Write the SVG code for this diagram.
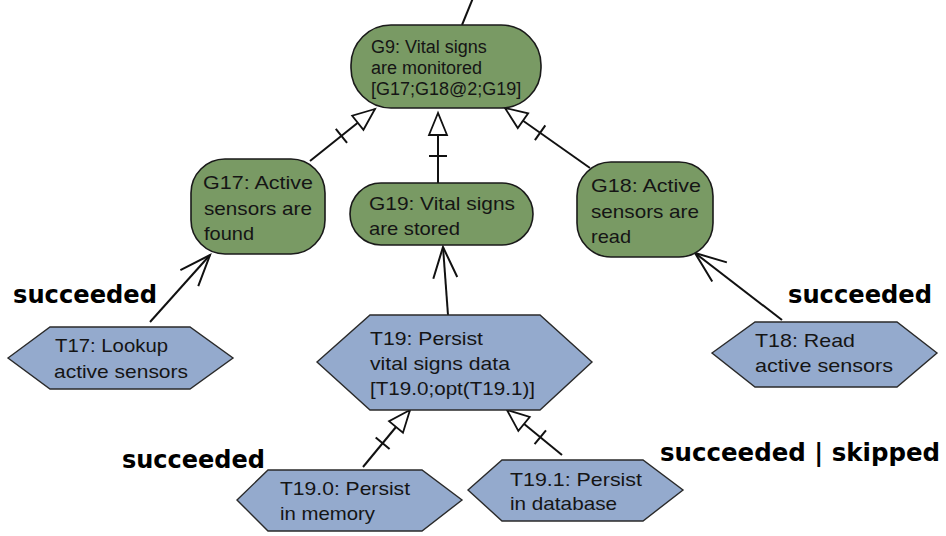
<svg xmlns="http://www.w3.org/2000/svg" width="946" height="536" viewBox="0 0 946 536">
  <style>
    .goal { fill: #799a64; stroke: #1a1a1a; stroke-width: 1.6; }
    .task { fill: #94aacd; stroke: #2a2a2a; stroke-width: 1.4; }
    .txt { font-family: "Liberation Sans", Arial, sans-serif; font-size: 19px; fill: #151515; }
    .top { font-size: 18px; }
    .lbl { font-family: "DejaVu Sans", sans-serif; font-weight: bold; font-size: 24px; fill: #000; }
    .edge { stroke: #111; stroke-width: 2; fill: none; }
    .refine { marker-end: url(#refine); }
    .means { marker-end: url(#means); }
  </style>
  <defs>
    <!-- hollow triangle with a crossing tick: goal/task decomposition -->
    <marker id="refine" markerUnits="userSpaceOnUse" viewBox="-50 -12 52 24" refX="0" refY="0" markerWidth="52" markerHeight="24" orient="auto" overflow="visible">
      <line x1="-43" y1="-9" x2="-43" y2="9" stroke="#111" stroke-width="2"/>
      <path d="M0,0 L-22,-9 L-22,9 Z" fill="#fff" stroke="#111" stroke-width="1.8" stroke-linejoin="miter"/>
    </marker>
    <!-- open arrowhead: task achieves goal -->
    <marker id="means" markerUnits="userSpaceOnUse" viewBox="-34 -14 36 28" refX="0" refY="0" markerWidth="36" markerHeight="28" orient="auto" overflow="visible">
      <path d="M-31,-12 L0,0 L-31,12" fill="none" stroke="#111" stroke-width="2"/>
    </marker>
  </defs>

  <g id="connectors">
    <line class="edge" x1="462" y1="25" x2="473" y2="-2"/>
    <line class="edge refine" x1="310" y1="161" x2="375" y2="109"/>
    <line class="edge refine" x1="438" y1="183" x2="438" y2="113"/>
    <line class="edge refine" x1="590" y1="168" x2="505" y2="108"/>
    <line class="edge means" x1="150" y1="322" x2="210" y2="255"/>
    <line class="edge means" x1="448" y1="315" x2="443" y2="247"/>
    <line class="edge means" x1="782" y1="320" x2="695" y2="253"/>
    <line class="edge refine" x1="363" y1="467" x2="410" y2="410"/>
    <line class="edge refine" x1="562" y1="455" x2="507" y2="410"/>
  </g>

  <g id="G9">
    <rect class="goal" x="351" y="25" width="190" height="83" rx="40" ry="40"/>
    <text class="txt top" x="371" y="53">G9: Vital signs</text>
    <text class="txt top" x="371" y="74">are monitored</text>
    <text class="txt top" x="371" y="95">[G17;G18@2;G19]</text>
  </g>

  <g id="G17">
    <rect class="goal" x="191" y="159" width="134" height="95" rx="34" ry="34"/>
    <text class="txt" x="203" y="189" textLength="110" lengthAdjust="spacingAndGlyphs">G17: Active</text>
    <text class="txt" x="204" y="215" textLength="108" lengthAdjust="spacingAndGlyphs">sensors are</text>
    <text class="txt" x="204" y="240" textLength="50" lengthAdjust="spacingAndGlyphs">found</text>
  </g>

  <g id="G19">
    <rect class="goal" x="350" y="183" width="183" height="62" rx="31" ry="31"/>
    <text class="txt" x="369" y="210" textLength="146" lengthAdjust="spacingAndGlyphs">G19: Vital signs</text>
    <text class="txt" x="369" y="235" textLength="91" lengthAdjust="spacingAndGlyphs">are stored</text>
  </g>

  <g id="G18">
    <rect class="goal" x="577" y="162" width="136" height="95" rx="34" ry="34"/>
    <text class="txt" x="591" y="192" textLength="110" lengthAdjust="spacingAndGlyphs">G18: Active</text>
    <text class="txt" x="591" y="218" textLength="108" lengthAdjust="spacingAndGlyphs">sensors are</text>
    <text class="txt" x="591" y="243" textLength="40" lengthAdjust="spacingAndGlyphs">read</text>
  </g>

  <g id="T17">
    <polygon class="task" points="8,358 50,327 190,327 233,358 190,389 50,389"/>
    <text class="txt" x="55" y="352" textLength="113" lengthAdjust="spacingAndGlyphs">T17: Lookup</text>
    <text class="txt" x="54" y="378" textLength="134" lengthAdjust="spacingAndGlyphs">active sensors</text>
  </g>

  <g id="T19">
    <polygon class="task" points="317,362 370,315 540,315 592,362 540,410 370,410"/>
    <text class="txt" x="370" y="345" textLength="113" lengthAdjust="spacingAndGlyphs">T19: Persist</text>
    <text class="txt" x="370" y="370" textLength="140" lengthAdjust="spacingAndGlyphs">vital signs data</text>
    <text class="txt" x="370" y="395" textLength="165" lengthAdjust="spacingAndGlyphs">[T19.0;opt(T19.1)]</text>
  </g>

  <g id="T18">
    <polygon class="task" points="712,353 755,322 897,322 937,353 897,387 755,387"/>
    <text class="txt" x="755" y="347" textLength="100" lengthAdjust="spacingAndGlyphs">T18: Read</text>
    <text class="txt" x="755" y="372" textLength="138" lengthAdjust="spacingAndGlyphs">active sensors</text>
  </g>

  <g id="T19_0">
    <polygon class="task" points="237,500 268,470 422,470 462,500 422,531 268,531"/>
    <text class="txt" x="280" y="495" textLength="130" lengthAdjust="spacingAndGlyphs">T19.0: Persist</text>
    <text class="txt" x="280" y="520" textLength="95" lengthAdjust="spacingAndGlyphs">in memory</text>
  </g>

  <g id="T19_1">
    <polygon class="task" points="468,490 502,460 643,460 683,490 643,521 502,521"/>
    <text class="txt" x="510" y="486" textLength="132" lengthAdjust="spacingAndGlyphs">T19.1: Persist</text>
    <text class="txt" x="510" y="510" textLength="107" lengthAdjust="spacingAndGlyphs">in database</text>
  </g>

  <g id="labels">
    <text class="lbl" x="13" y="303" textLength="144" lengthAdjust="spacingAndGlyphs">succeeded</text>
    <text class="lbl" x="788" y="303" textLength="144" lengthAdjust="spacingAndGlyphs">succeeded</text>
    <text class="lbl" x="122" y="468" textLength="143" lengthAdjust="spacingAndGlyphs">succeeded</text>
    <text class="lbl" x="660" y="461" textLength="280" lengthAdjust="spacingAndGlyphs">succeeded | skipped</text>
  </g>
</svg>
